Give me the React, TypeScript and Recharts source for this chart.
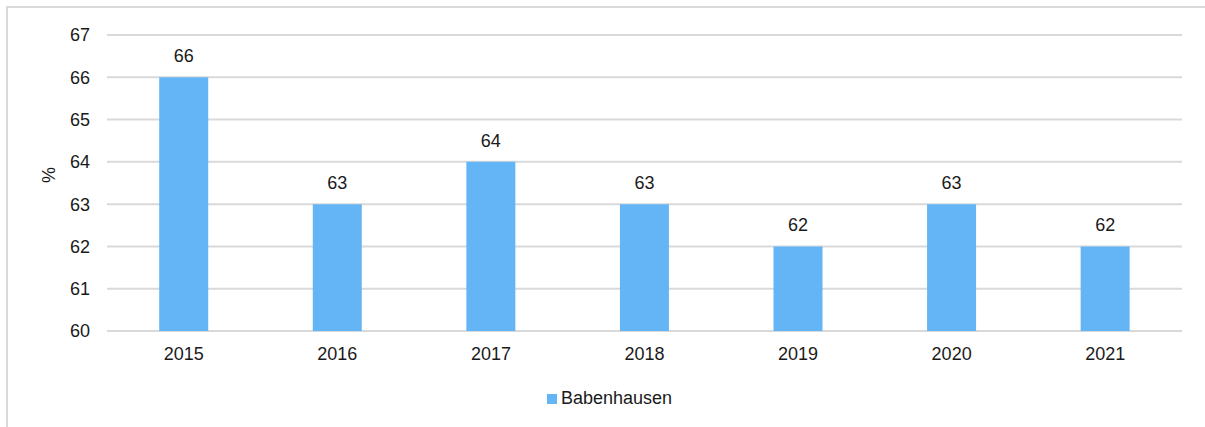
import { BarChart, Bar, XAxis, YAxis, CartesianGrid, Legend, LabelList, Label } from "recharts";

const years = ["2015", "2016", "2017", "2018", "2019", "2020", "2021"];
const babenhausen = [66, 63, 64, 63, 62, 63, 62];
const yTicks = [60, 61, 62, 63, 64, 65, 66, 67];

const data = years.map((year, i) => ({ year, Babenhausen: babenhausen[i] }));

const font = "'Liberation Sans', Arial, sans-serif";

export default function App() {
  return (
    <div
      style={{
        position: "absolute",
        left: 6,
        top: 6,
        width: 1230,
        height: 440,
        border: "2px solid #d9d9d9",
        background: "#fff",
        fontFamily: font,
      }}
    >
      <BarChart
        width={1200}
        height={419}
        data={data}
        margin={{ top: 27, right: 26, left: 39, bottom: 35 }}
        barCategoryGap="34%"
      >
        <CartesianGrid vertical={false} stroke="#d9d9d9" strokeWidth={2} />
        <XAxis
          dataKey="year"
          axisLine={false}
          tickLine={false}
          tick={{ fontSize: 18, fill: "#1a1a1a", fontFamily: font }}
          tickMargin={10}
          height={40}
        />
        <YAxis
          domain={[60, 67]}
          ticks={yTicks}
          axisLine={false}
          tickLine={false}
          width={60}
          tickMargin={11}
          tick={{ fontSize: 18, fill: "#1a1a1a", fontFamily: font }}
        >
          <Label value="%" angle={-90} position="insideLeft" offset={2} style={{ fontSize: 18, fill: "#1a1a1a", fontFamily: font }} />
        </YAxis>
        <Legend
          iconType="square"
          iconSize={10}
          wrapperStyle={{ top: 380, fontSize: 18, fontFamily: font }}
          formatter={(v) => <span style={{ color: "#1a1a1a" }}>{v}</span>}
        />
        <Bar dataKey="Babenhausen" fill="#64b5f6" isAnimationActive={false}>
          <LabelList dataKey="Babenhausen" position="top" offset={15} style={{ fontSize: 18, fill: "#1a1a1a", fontFamily: font }} />
        </Bar>
      </BarChart>
    </div>
  );
}
